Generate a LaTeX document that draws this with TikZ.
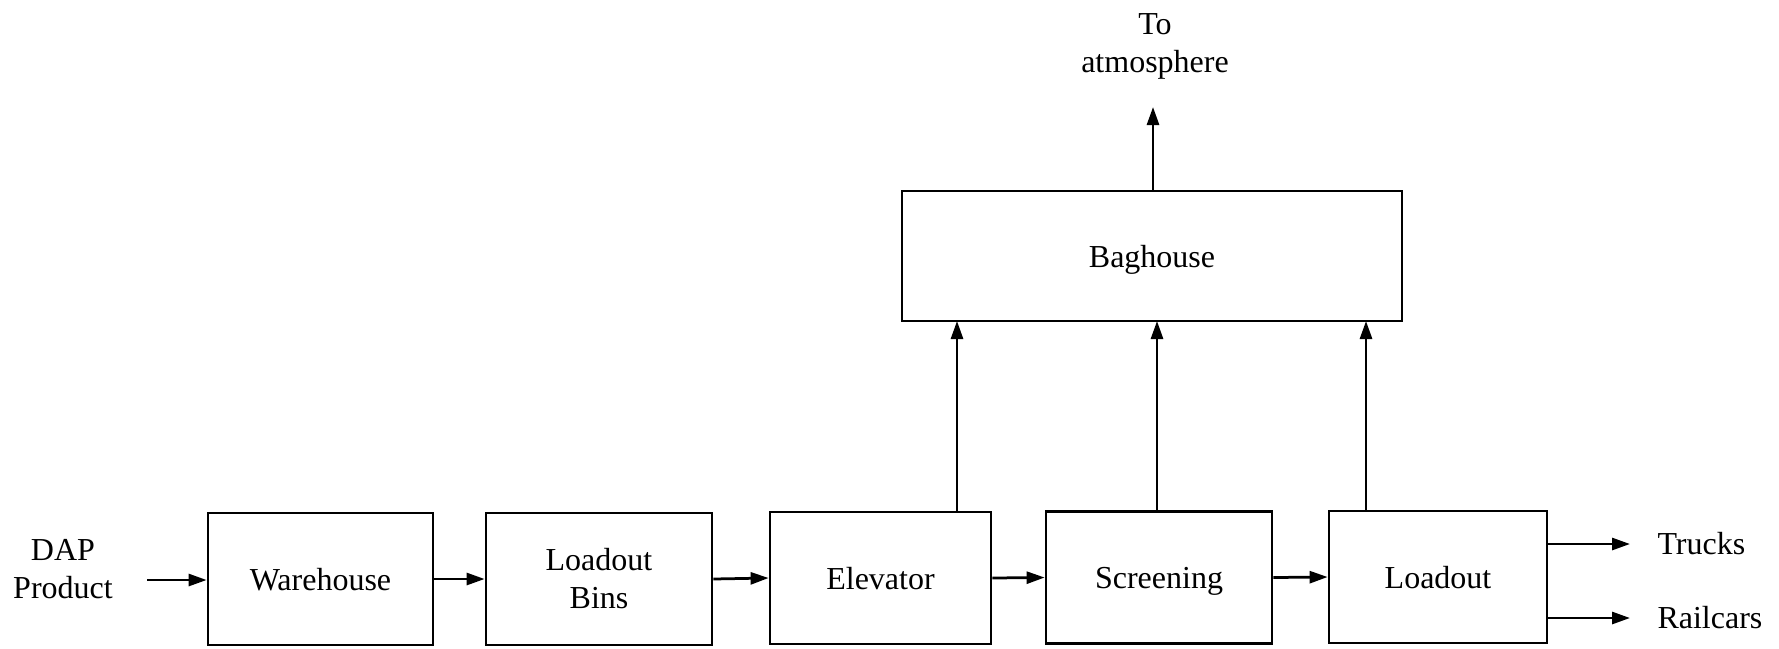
\documentclass[tikz,border=0pt]{standalone}
\usepackage{fontspec}
\setmainfont{Liberation Serif}
\usetikzlibrary{arrows.meta}
\begin{document}
\begin{tikzpicture}[x=0.4pt,y=-0.4pt,
  font=\fontsize{12.8}{15.2}\selectfont,
  box/.style={draw,line width=1.1pt,minimum height=132*0.4pt,inner sep=0pt,text height=9pt,text depth=0pt},
  box2/.style={draw,line width=1.1pt,minimum height=132*0.4pt,inner sep=0pt,align=center},
  arr/.style={line width=1.1pt,-{Triangle[length=7.2pt,width=4.8pt]}},
  lbl/.style={align=center,inner sep=0pt}]
\useasboundingbox (0,0) rectangle (1779,648);
% boxes
\node[box,minimum width=225*0.4pt] (wh) at (320.5,579) {Warehouse};
\node[box2,minimum width=226*0.4pt] (lb) at (599,579) {Loadout\\Bins};
\node[box,minimum width=221*0.4pt] (el) at (880.5,578) {Elevator};
\node[box,minimum width=226*0.4pt] (sc) at (1159,577.5) {Screening};
\node[box,minimum width=218*0.4pt] (lo) at (1438,577) {Loadout};
\node[box,minimum width=500*0.4pt,minimum height=130*0.4pt] (bh) at (1152,256) {Baghouse};
% labels
\node[lbl] (dap) at (63,569) {DAP\\Product};
\node[lbl,anchor=south] (atm) at (1155,80) {To\\atmosphere};
\node[lbl,anchor=west] (tr) at (1657,544) {Trucks};
\node[lbl,anchor=west] (rc) at (1657,618) {Railcars};
% helper coordinates
\coordinate (din) at (147,580);
\coordinate (b1) at (957,321);
\coordinate (b2) at (1157,321);
\coordinate (b3) at (1366,321);
\coordinate (up) at (1153,107);
\coordinate (tt) at (1630,544);
\coordinate (rr) at (1630,618);
% connectors
\draw[arr] (din) -- (din -| wh.west);
\draw[arr] (wh.east) -- (lb.west);
\draw[arr] (lb.east) -- (el.west);
\draw[arr] (el.east) -- (sc.west);
\draw[arr] (sc.east) -- (lo.west);
\draw[arr] (el.north -| b1) -- (b1);
\draw[arr] (sc.north -| b2) -- (b2);
\draw[arr] (lo.north -| b3) -- (b3);
\draw[arr] (bh.north -| up) -- (up);
\draw[arr] (tt -| lo.east) -- (tt);
\draw[arr] (rr -| lo.east) -- (rr);
\end{tikzpicture}
\end{document}
